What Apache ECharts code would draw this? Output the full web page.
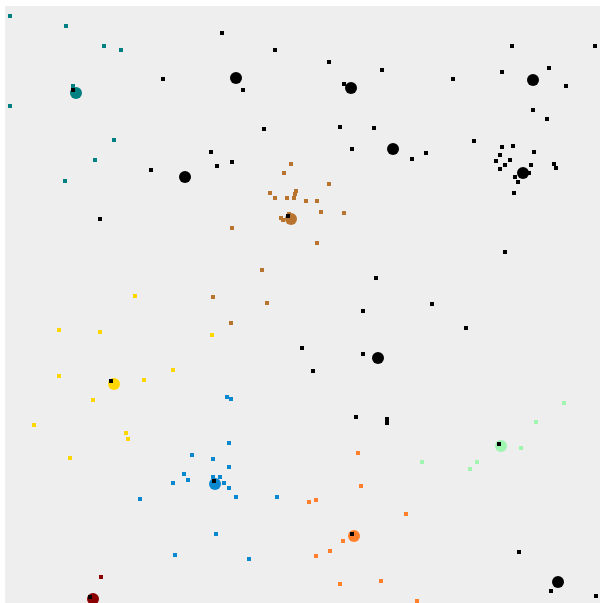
<!DOCTYPE html>
<html>
<head>
<meta charset="utf-8">
<script src="https://cdn.jsdelivr.net/npm/echarts@6/dist/echarts.min.js"></script>
<style>
  html, body { margin: 0; padding: 0; background: #ffffff; }
  #chart { width: 600px; height: 603px; }
</style>
</head>
<body>
<div id="chart"></div>
<script>
// Clustered points: each cluster's members plus its centre, and unassigned (noise) points.
var tealPoints = [[5,587],[61,577],[99,557],[116,553],[68,517],[5,497],[109,463],[90,443],[60,422]];
var brownPoints = [[286,439],[279,430],[324,419],[265,410],[270,405],[291,412],[290,409],[282,405],[289,405],[301,402],[312,402],[316,391],[339,390],[276,385],[278,383],[284,389],[227,375],[312,360],[257,333],[208,306],[262,300],[226,280]];
var yellowPoints = [[130,307],[54,273],[95,271],[54,227],[139,223],[168,233],[88,203],[29,178],[121,170],[123,164],[65,145],[207,268]];
var bluePoints = [[222,206],[226,204],[224,160],[208,144],[224,136],[208,126],[215,126],[219,120],[224,115],[231,106],[272,106],[211,69],[244,44],[187,148],[179,129],[183,123],[168,120],[135,104],[170,48]];
var orangePoints = [[353,150],[356,117],[304,101],[311,103],[338,62],[325,52],[311,47],[335,19],[376,22],[401,89],[412,2]];
var greenPoints = [[559,200],[531,181],[516,155],[417,141],[472,141],[465,134]];
var darkRedPoints = [[96,26]];
var noisePoints = [[68,513],[158,524],[146,433],[217,570],[270,553],[324,541],[377,533],[238,513],[339,519],[259,474],[335,476],[369,475],[206,451],[347,454],[227,441],[212,437],[507,557],[590,557],[497,531],[544,535],[448,524],[561,517],[528,493],[542,484],[469,462],[421,450],[407,444],[497,456],[508,457],[529,451],[495,448],[491,442],[505,443],[500,438],[495,434],[526,438],[549,439],[551,435],[524,430],[510,426],[513,421],[509,410],[95,384],[283,387],[371,325],[500,351],[358,292],[427,299],[461,275],[297,255],[358,249],[308,232],[106,222],[351,186],[382,184],[382,180],[209,122],[347,69],[494,159],[514,51],[546,12],[591,7],[85,6]];

var tealCentre = [[71,510]];
var brownCentre = [[286,384]];
var yellowCentre = [[109,219]];
var blueCentre = [[210,119]];
var orangeCentre = [[349,67]];
var greenCentre = [[496,157]];
var darkRedCentre = [[88,4]];
var blackCentres = [[180,426],[231,525],[346,515],[388,454],[528,523],[518,430],[373,245],[553,21]];

var xRange = [0, 595];
var yRange = [0, 597];

function centres(data, color) {
  return { type: 'scatter', data: data, symbol: 'circle', symbolSize: 12,
           itemStyle: { color: color, opacity: 1 }, silent: true };
}
function members(data, color) {
  return { type: 'scatter', data: data, symbol: 'rect', symbolSize: 4,
           itemStyle: { color: color, opacity: 1 }, silent: true };
}

var chart = echarts.init(document.getElementById('chart'));
chart.setOption({
  animation: false,
  backgroundColor: '#ffffff',
  grid: { left: 5, top: 6, right: 0, bottom: 0, show: true,
          backgroundColor: '#eeeeee', borderWidth: 0 },
  xAxis: { type: 'value', min: xRange[0], max: xRange[1], show: false },
  yAxis: { type: 'value', min: yRange[0], max: yRange[1], show: false },
  series: [
    centres(blackCentres, '#000000'),
    centres(tealCentre, '#008080'),
    centres(brownCentre, '#b8732f'),
    centres(yellowCentre, '#ffd700'),
    centres(blueCentre, '#0a88cf'),
    centres(orangeCentre, '#ff7f2a'),
    centres(greenCentre, '#a0f5b0'),
    centres(darkRedCentre, '#8b0000'),
    members(tealPoints, '#008080'),
    members(brownPoints, '#b8732f'),
    members(yellowPoints, '#ffd700'),
    members(bluePoints, '#0a88cf'),
    members(orangePoints, '#ff7f2a'),
    members(greenPoints, '#a0f5b0'),
    members(darkRedPoints, '#8b0000'),
    members(noisePoints, '#000000')
  ]
});
</script>
</body>
</html>
